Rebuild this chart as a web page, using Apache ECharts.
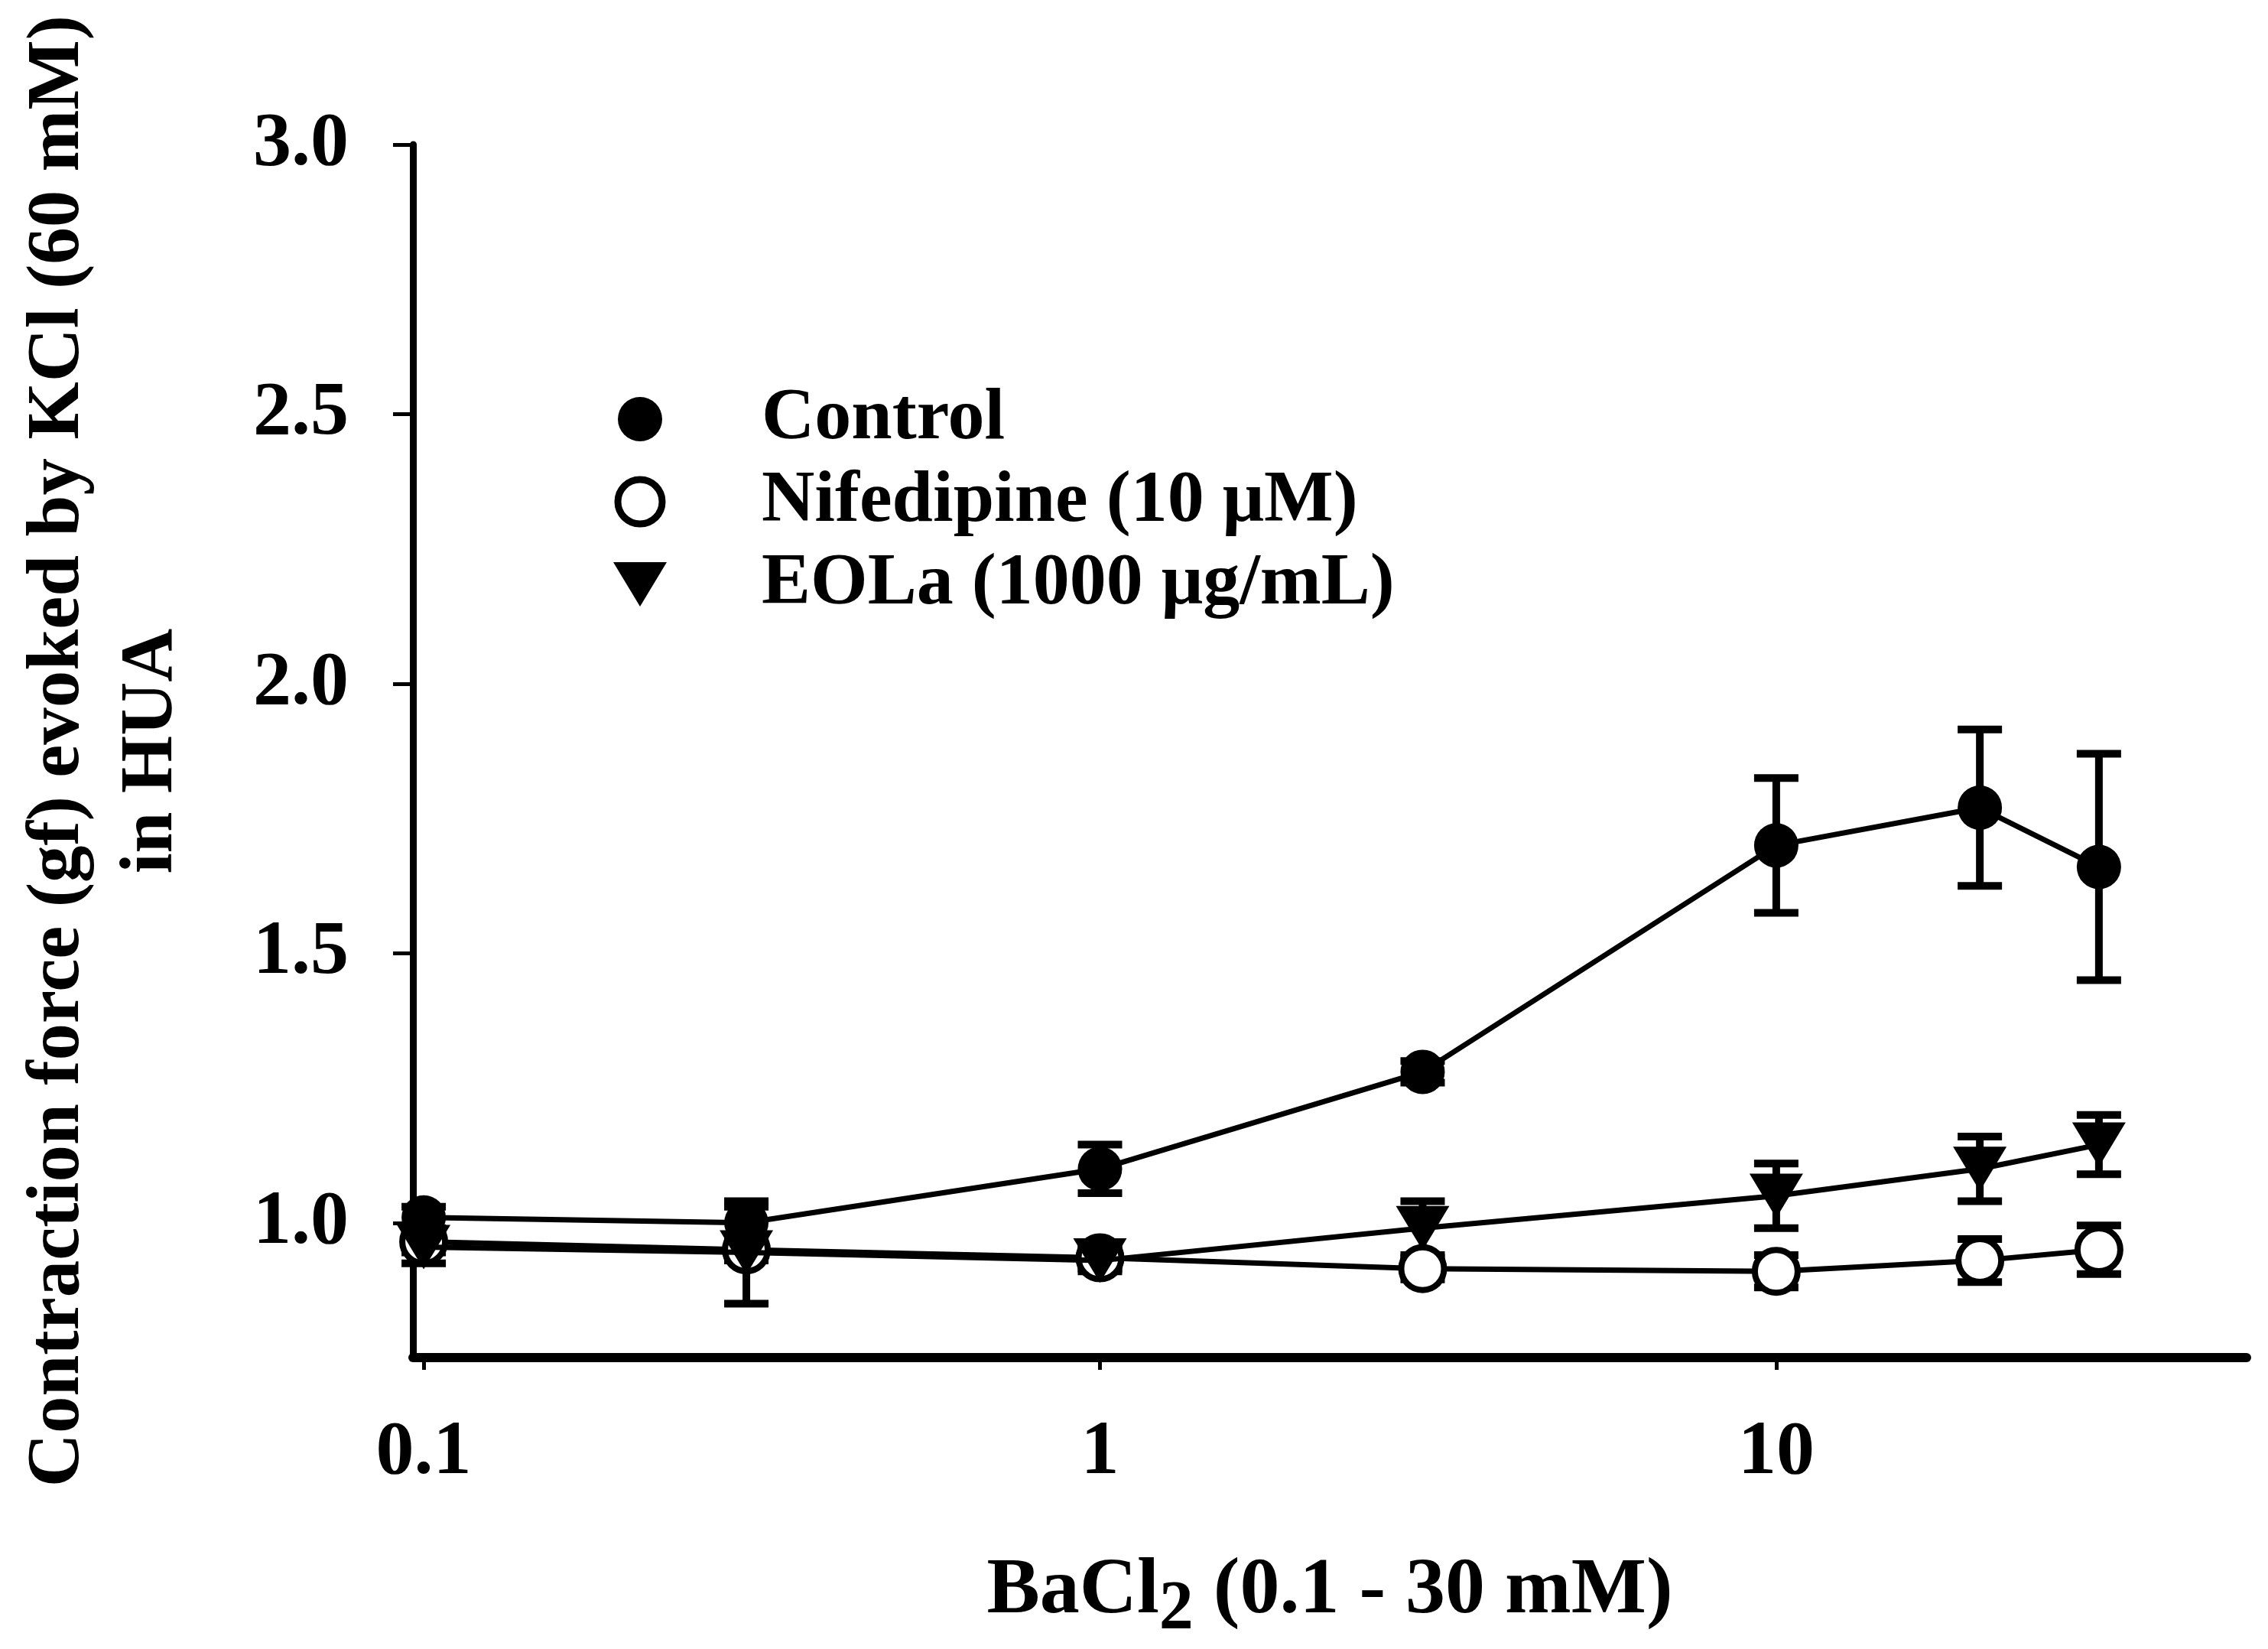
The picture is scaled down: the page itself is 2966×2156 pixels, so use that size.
<!DOCTYPE html>
<html>
<head>
<meta charset="utf-8">
<script src="https://cdn.jsdelivr.net/npm/echarts@6/dist/echarts.min.js"></script>
<style>
html,body{margin:0;padding:0;background:#fff;}
#chart{width:2966px;height:2156px;}
</style>
</head>
<body>
<div id="chart"></div>
<script>
// ---- data ----
const concentrations = [0.1, 0.3, 1, 3, 10, 20, 30];
const controlMean = [1.01, 1.00, 1.10, 1.28, 1.70, 1.77, 1.66];
const controlSem  = [0.02, 0.03, 0.045, 0.02, 0.125, 0.145, 0.21];
const nifedipineMean = [0.965, 0.95, 0.935, 0.915, 0.91, 0.93, 0.95];
const nifedipineSem  = [0.02, 0.02, 0.02, 0.02, 0.03, 0.04, 0.045];
const eolaMean = [0.955, 0.945, 0.93, 0.99, 1.05, 1.10, 1.145];
const eolaSem  = [0.03, 0.095, 0.02, 0.05, 0.06, 0.06, 0.055];
const seriesNames = ['Control', 'Nifedipine (10 μM)', 'EOLa (1000 μg/mL)'];
const xTickValues = [0.1, 1, 10];
const yTickValues = [1.0, 1.5, 2.0, 2.5, 3.0];

const FONT = 'Liberation Serif';
const triDown = 'path://M0,0L70,0L35,58Z';

function pts(means) { return concentrations.map((x, i) => [x, means[i]]); }
function errPts(means, sems) { return concentrations.map((x, i) => [x, means[i], sems[i]]); }

function errorSeries(name, means, sems) {
  return {
    type: 'custom',
    name: name + ' SEM',
    z: 1,
    silent: true,
    encode: { x: 0, y: 1 },
    data: errPts(means, sems),
    renderItem: function (params, api) {
      const x = api.value(0), y = api.value(1), e = api.value(2);
      const top = api.coord([x, y + e]);
      const bot = api.coord([x, y - e]);
      const hw = 29;
      const st = { stroke: '#000', lineWidth: 10 };
      return {
        type: 'group',
        children: [
          { type: 'line', shape: { x1: top[0], y1: top[1], x2: bot[0], y2: bot[1] }, style: st },
          { type: 'line', shape: { x1: top[0] - hw, y1: top[1], x2: top[0] + hw, y2: top[1] }, style: st },
          { type: 'line', shape: { x1: bot[0] - hw, y1: bot[1], x2: bot[0] + hw, y2: bot[1] }, style: st }
        ]
      };
    }
  };
}

const chart = echarts.init(document.getElementById('chart'), null, { renderer: 'canvas' });
chart.setOption({
  backgroundColor: '#fff',
  animation: false,
  grid: { left: 540, right: 28, top: 189, bottom: 377 },
  legend: {
    orient: 'vertical',
    left: 797,
    top: 495,
    itemWidth: 308,
    itemHeight: 58,
    itemGap: 12,
    selectedMode: false,
    textStyle: { fontFamily: FONT, fontWeight: 'bold', fontSize: 96, color: '#000' },
    data: [
      { name: seriesNames[0], icon: 'circle' },
      { name: seriesNames[1], icon: 'circle', itemStyle: { color: '#fff', borderColor: '#000', borderWidth: 9 } },
      { name: seriesNames[2], icon: triDown }
    ]
  },
  xAxis: {
    type: 'log',
    logBase: 10,
    min: 0.0964,
    max: 49.6,
    name: 'BaCl{sub|2} (0.1 - 30 mM)',
    nameLocation: 'middle',
    nameGap: 236,
    nameTextStyle: {
      fontFamily: FONT, fontWeight: 'bold', fontSize: 104, color: '#000',
      rich: { sub: { fontFamily: FONT, fontWeight: 'bold', fontSize: 90, color: '#000', padding: [50, 0, 0, 0] } }
    },
    axisLine: { show: true, onZero: false, lineStyle: { color: '#000', width: 12 } },
    axisTick: { show: true, inside: false, length: 16, customValues: xTickValues, lineStyle: { color: '#000', width: 5 } },
    axisLabel: {
      customValues: xTickValues, margin: 75,
      fontFamily: FONT, fontWeight: 'bold', fontSize: 100, color: '#000',
      formatter: function (v) { return String(v); }
    },
    splitLine: { show: false },
    minorTick: { show: false }
  },
  yAxis: {
    type: 'value',
    min: 0.75,
    max: 3.0,
    name: 'Contraction force (gf) evoked by KCl (60 mM)\nin HUA',
    nameLocation: 'middle',
    nameRotate: 90,
    nameGap: 280,
    nameTextStyle: { fontFamily: FONT, fontWeight: 'bold', fontSize: 97, color: '#000', lineHeight: 122, align: 'center' },
    axisLine: { show: true, onZero: false, lineStyle: { color: '#000', width: 9 } },
    axisTick: { show: true, inside: false, length: 26, customValues: yTickValues, lineStyle: { color: '#000', width: 5 } },
    axisLabel: {
      customValues: yTickValues, margin: 84,
      fontFamily: FONT, fontWeight: 'bold', fontSize: 100, color: '#000',
      formatter: function (v) { return Number(v).toFixed(1); }
    },
    splitLine: { show: false }
  },
  series: [
    errorSeries(seriesNames[0], controlMean, controlSem),
    errorSeries(seriesNames[1], nifedipineMean, nifedipineSem),
    errorSeries(seriesNames[2], eolaMean, eolaSem),
    {
      type: 'line', name: seriesNames[1], z: 2, data: pts(nifedipineMean),
      symbol: 'circle', symbolSize: 56, showSymbol: true,
      itemStyle: { color: '#fff', borderColor: '#000', borderWidth: 8 },
      lineStyle: { color: '#000', width: 7 }
    },
    {
      type: 'line', name: seriesNames[2], z: 3, data: pts(eolaMean),
      symbol: triDown, symbolSize: [70, 58], showSymbol: true,
      itemStyle: { color: '#000', borderWidth: 0 },
      lineStyle: { color: '#000', width: 7 }
    },
    {
      type: 'line', name: seriesNames[0], z: 4, data: pts(controlMean),
      symbol: 'circle', symbolSize: 58, showSymbol: true,
      itemStyle: { color: '#000', borderWidth: 0 },
      lineStyle: { color: '#000', width: 7 }
    }
  ]
});
</script>
</body>
</html>
